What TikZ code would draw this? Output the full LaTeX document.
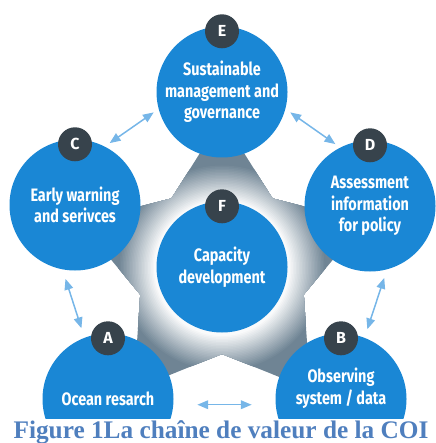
\documentclass[tikz,border=0pt]{standalone}
\usepackage{fontspec}
\setmainfont{Liberation Serif}
\setsansfont{Fira Sans}
\usetikzlibrary{shapes,arrows,positioning,shadows,calc}

\definecolor{stageblue}{HTML}{1A87D5}
\definecolor{badgegrey}{HTML}{37434C}
\definecolor{linkblue}{HTML}{76B6E8}
\definecolor{stargrey}{HTML}{6F8494}
\definecolor{captionblue}{HTML}{4F7FBE}

\newcommand\stagefont{\fontsize{18}{21.5}\selectfont\addfontfeature{FakeStretch=0.8}}

\begin{document}
\begin{tikzpicture}[x=1pt, y=-1pt]
    % Define styles
    \tikzstyle{stage} = [circle, minimum size=131pt, inner sep=0pt, fill=stageblue, text=white, align=center, font=\sffamily\bfseries\stagefont]
    \tikzstyle{badge} = [circle, minimum size=34pt, inner sep=0pt, fill=badgegrey, text=white, font=\sffamily\bfseries\fontsize{16}{16}\selectfont]
    \tikzstyle{link} = [line width=1.5pt, draw=linkblue, <->, >=triangle 45, shorten >=6pt, shorten <=6pt]

    \useasboundingbox (0,0) rectangle (435,443);

    % Star behind the circles, lighter towards the middle
    \coordinate (hub) at (222,268);
    \begin{scope}
        \clip (hub) ++(-90:150) \foreach \k in {0,...,4} { -- ($(hub)+(-54+72*\k:86)$) -- ($(hub)+(-18+72*\k:150)$) } -- cycle;
        \fill[stargrey] (hub) circle (160pt);
        \foreach \i in {0,...,24}
            \fill[stargrey!\the\numexpr 100-4*\i\relax!white] (hub) circle ({104pt-1.5pt*\i});
    \end{scope}

    % Nodes
    \node [stage] (governance) at (222,92) {Sustainable\\management and\\governance};
    \node [stage] (warning) at (75,205) {Early warning\\and serivces};
    \node [stage] (assessment) at (370,206) {Assessment\\information\\for policy};
    \node [stage] (research) at (108,399) {Ocean resarch};
    \node [stage] (observing) at (341,399) {Observing\\system / data\\[4pt]};
    \node [stage] (capacity) at (222,267) {Capacity\\development};

    \node [badge] (tagE) at ([yshift=-5pt]governance.north) {E};
    \node [badge] (tagC) at ([yshift=-5pt]warning.north) {C};
    \node [badge] (tagD) at ([yshift=-5pt]assessment.north) {D};
    \node [badge] (tagA) at ([yshift=-5pt]research.north) {A};
    \node [badge] (tagB) at ([yshift=-5pt]observing.north) {B};
    \node [badge] (tagF) at ([yshift=-5pt]capacity.north) {F};

    % Arrows
    \draw [link] (governance.195) -- (warning.63);
    \draw [link] (governance.-15) -- (assessment.117);
    \draw [link, shorten >=10pt, shorten <=10pt] (warning.259) -- (research.111);
    \draw [link, shorten >=9pt, shorten <=9pt] (assessment.285) -- (observing.69);
    \draw [link, shorten >=24pt, shorten <=24pt] (research.-5) -- (observing.185);

    % Caption
    \fill[white] (0,419) rectangle (435,443);
    \node [anchor=base, text=captionblue, font=\bfseries\fontsize{25.3}{25.3}\selectfont] (caption) at (221,438) {Figure 1La chaîne de valeur de la COI};
\end{tikzpicture}
\end{document}
